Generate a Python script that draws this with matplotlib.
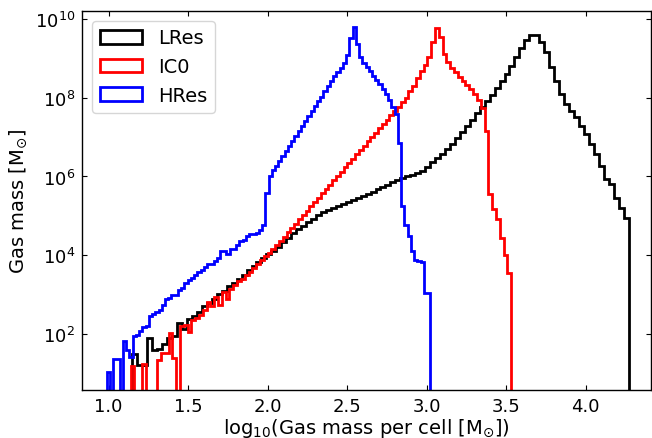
import numpy as np
import matplotlib
matplotlib.use("Agg")
import matplotlib.pyplot as plt

# log10 of gas mass per bin (None = empty bin); 100 bins per run
hres_range = (0.989, 3.022)
hres_log_mass = [
    1.03, None, 1.37, 1.37, None, 1.82, 1.60, 1.42, 1.96, 1.98,
    2.07, 2.18, 2.20, 2.47, 2.52, 2.55, 2.62, 2.75, 2.88, 2.92,
    3.00, 3.00, 3.13, 3.17, 3.30, 3.38, 3.42, 3.49, 3.58, 3.62,
    3.70, 3.77, 3.77, 3.85, 3.94, 4.10, 4.10, 4.02, 4.17, 4.17,
    4.25, 4.36, 4.40, 4.49, 4.53, 4.53, 4.57, 4.63, 4.76, 5.57,
    6.01, 6.16, 6.27, 6.39, 6.52, 6.65, 6.78, 6.90, 7.03, 7.16,
    7.29, 7.41, 7.54, 7.67, 7.79, 7.91, 8.02, 8.16, 8.30, 8.43,
    8.56, 8.66, 8.76, 8.87, 9.09, 9.52, 9.79, 9.36, 9.04, 8.87,
    8.77, 8.67, 8.56, 8.46, 8.35, 8.22, 8.09, 7.94, 7.77, 7.58,
    6.86, 5.25, 4.78, 4.49, 4.12, 3.89, 3.86, 3.84, 3.05, 3.05,
]

ic0_range = (1.138, 3.531)
ic0_log_mass = [
    1.18, None, None, 1.25, None, None, None, 1.35, 1.52, 1.52,
    2.03, 1.39, None, 2.20, 2.22, 2.05, 2.35, 2.42, 2.48, 2.62,
    2.82, 2.70, 2.95, 2.75, 3.08, 2.90, 3.15, 3.25, 3.34, 3.41,
    3.50, 3.58, 3.68, 3.78, 3.87, 3.98, 4.06, 4.15, 4.25, 4.35,
    4.46, 4.58, 4.70, 4.79, 4.91, 5.02, 5.13, 5.24, 5.35, 5.46,
    5.57, 5.68, 5.79, 5.90, 6.01, 6.12, 6.23, 6.34, 6.45, 6.56,
    6.67, 6.78, 6.89, 7.00, 7.11, 7.22, 7.33, 7.44, 7.55, 7.66,
    7.77, 7.88, 8.00, 8.16, 8.30, 8.50, 8.67, 8.84, 9.04, 9.41,
    9.77, 9.55, 9.11, 8.90, 8.75, 8.64, 8.53, 8.43, 8.33, 8.22,
    8.09, 7.94, 7.75, 7.16, 5.55, 5.17, 4.92, 4.44, 4.00, 3.54,
]

lres_range = (1.150, 4.269)
lres_log_mass = [
    1.50, 1.22, 1.22, 1.90, 1.60, 1.62, 1.75, 1.90, 1.95, 2.28,
    2.12, 2.38, 2.45, 2.55, 2.70, 2.80, 2.90, 3.02, 3.10, 3.22,
    3.30, 3.40, 3.50, 3.62, 3.72, 3.82, 3.92, 4.02, 4.12, 4.22,
    4.33, 4.45, 4.56, 4.66, 4.75, 4.84, 4.93, 5.01, 5.09, 5.16,
    5.21, 5.25, 5.30, 5.35, 5.40, 5.45, 5.50, 5.55, 5.61, 5.67,
    5.73, 5.79, 5.85, 5.90, 5.96, 6.00, 6.04, 6.09, 6.15, 6.25,
    6.36, 6.48, 6.58, 6.70, 6.83, 6.97, 7.12, 7.28, 7.44, 7.60,
    7.76, 7.92, 8.08, 8.25, 8.42, 8.60, 8.80, 9.02, 9.25, 9.47,
    9.59, 9.59, 9.41, 9.15, 8.77, 8.43, 8.09, 7.84, 7.67, 7.50,
    7.29, 7.07, 6.82, 6.56, 6.27, 5.93, 5.80, 5.46, 5.21, 4.95,
]

labels = ["LRes", "IC0", "HRes"]
colors = ["black", "red", "blue"]
x_ticks = [1.0, 1.5, 2.0, 2.5, 3.0, 3.5, 4.0]
y_ticks = [1e2, 1e4, 1e6, 1e8, 1e10]

fig = plt.figure(figsize=(6.52, 4.39), dpi=100)
ax = fig.add_axes([82 / 652, 48 / 439, 569 / 652, 379 / 439])

series = [(lres_range, lres_log_mass), (ic0_range, ic0_log_mass), (hres_range, hres_log_mass)]
for (rng, logm), lab, col in zip(series, labels, colors):
    edges = np.linspace(rng[0], rng[1], len(logm) + 1)
    centers = 0.5 * (edges[:-1] + edges[1:])
    weights = np.array([0.0 if v is None else 10.0 ** v for v in logm])
    ax.hist(centers, bins=edges, weights=weights, histtype="step", log=True,
            color=col, lw=2.0, label=lab)

ax.set_yscale("log", nonpositive="clip")
ax.set_xlim(0.833, 4.41)
ax.set_ylim(10 ** 0.58, 10 ** 10.2)
ax.set_xticks(x_ticks)
ax.set_yticks(y_ticks)
ax.yaxis.set_minor_locator(matplotlib.ticker.NullLocator())
ax.xaxis.set_minor_locator(matplotlib.ticker.NullLocator())
ax.tick_params(which="both", direction="in", top=True, right=True, length=3.5,
               width=0.8, labelsize=13, pad=5)
for s in ax.spines.values():
    s.set_linewidth(1.0)

ax.set_xlabel(r"log$_{10}$(Gas mass per cell [M$_{\odot}$])", fontsize=14, labelpad=1)
ax.set_ylabel(r"Gas mass [M$_{\odot}$]", fontsize=14)

ax.legend(loc="upper left", fontsize=14, handlelength=2.2)

fig.savefig("out.png", dpi=100)
